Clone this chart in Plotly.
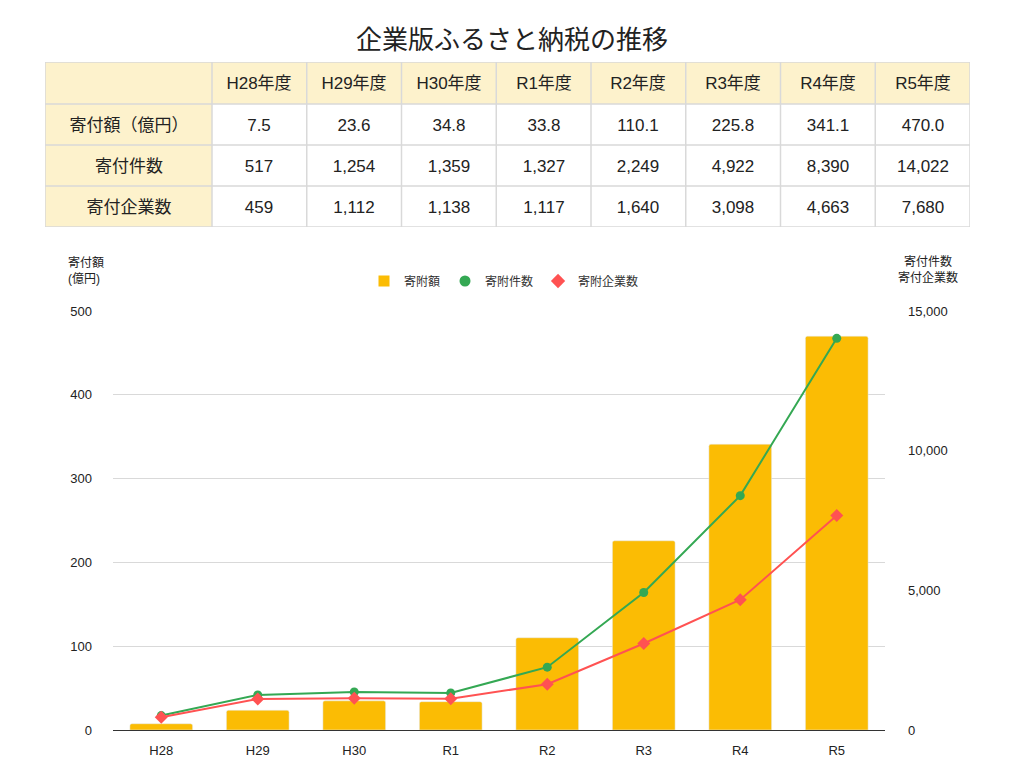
import plotly.graph_objects as go

# data
years = ["H28", "H29", "H30", "R1", "R2", "R3", "R4", "R5"]
year_labels = [y + "年度" for y in years]
amount = [7.5, 23.6, 34.8, 33.8, 110.1, 225.8, 341.1, 470.0]
count = [517, 1254, 1359, 1327, 2249, 4922, 8390, 14022]
companies = [459, 1112, 1138, 1117, 1640, 3098, 4663, 7680]
row_names = ["寄付額（億円）", "寄付件数", "寄付企業数"]

FONT = "Liberation Sans, Noto Sans CJK JP"
YELLOW = "#fbbc04"
GREEN = "#34a853"
RED = "#ff5252"
PALE = "#fdf2cc"
BORDER = "#d9d9d9"

W, H = 1024, 768
OFF = 8  # page body margin


def px(x):
    return (x - OFF) / W


def py(y):
    return 1 - (y - OFF) / H


fig = go.Figure()

# --- table on top, drawn as a heatmap so text is centred in each cell ---
first_w, col_w = 167, 94.75
x_edges = [0, first_w] + [first_w + col_w * (i + 1) for i in range(len(years))]
y_edges = [0, 42, 83, 124, 165]

text = [[""] + year_labels,
        [row_names[0]] + [f"{v:.1f}" for v in amount],
        [row_names[1]] + [f"{v:,}" for v in count],
        [row_names[2]] + [f"{v:,}" for v in companies]]
z = [[0] * (len(years) + 1)] + [[0] + [1] * len(years) for _ in range(3)]

fig.add_trace(go.Heatmap(
    x=x_edges, y=y_edges, z=z, text=text, texttemplate="%{text}",
    textfont=dict(family=FONT, size=17, color="#222"),
    colorscale=[[0, PALE], [1, "white"]], zmin=0, zmax=1,
    showscale=False, hoverinfo="skip", xaxis="x3", yaxis="y3",
))

# cell borders
for xe in x_edges:
    fig.add_shape(type="line", xref="x3", yref="y3", x0=xe, x1=xe,
                  y0=y_edges[0], y1=y_edges[-1],
                  line=dict(color=BORDER, width=1.5))
for ye in y_edges:
    fig.add_shape(type="line", xref="x3", yref="y3", y0=ye, y1=ye,
                  x0=x_edges[0], x1=x_edges[-1],
                  line=dict(color=BORDER, width=1.5))

# --- combo chart ---
fig.add_trace(go.Bar(x=years, y=amount, name="寄附額",
                     marker=dict(color=YELLOW, cornerradius=2),
                     showlegend=False))
fig.add_trace(go.Scatter(x=years, y=count, name="寄附件数", yaxis="y2",
                         mode="lines+markers",
                         line=dict(color=GREEN, width=2),
                         marker=dict(color=GREEN, size=9), showlegend=False))
fig.add_trace(go.Scatter(x=years, y=companies, name="寄附企業数", yaxis="y2",
                         mode="lines+markers",
                         line=dict(color=RED, width=2),
                         marker=dict(color=RED, size=10, symbol="diamond"),
                         showlegend=False))

# legend entries (symbols only, like the original)
for name, color, sym in [("寄附額", YELLOW, "square"),
                         ("寄附件数", GREEN, "circle"),
                         ("寄附企業数", RED, "diamond")]:
    fig.add_trace(go.Scatter(x=[None], y=[None], name=name, mode="markers",
                             marker=dict(color=color, symbol=sym, size=11)))

fig.update_layout(
    width=W, height=H,
    paper_bgcolor="white", plot_bgcolor="white",
    margin=dict(l=0, r=0, t=0, b=0, autoexpand=False),
    font=dict(family=FONT, size=12, color="#222"),
    title=dict(text="企業版ふるさと納税の推移", x=0.5 - OFF / W, xanchor="center",
               y=py(40), yanchor="middle",
               font=dict(family=FONT, size=26, color="#222")),
    bargap=0.35,
    legend=dict(orientation="h", x=px(504), xanchor="center",
                y=py(281), yanchor="middle",
                font=dict(size=12, color="#333"), itemwidth=30,
                bgcolor="rgba(0,0,0,0)"),
    xaxis=dict(domain=[px(113), px(885)], showgrid=False,
               showline=True, linecolor="#333", linewidth=1,
               ticks="", ticklabelstandoff=8,
               tickfont=dict(size=13, color="#222")),
    yaxis=dict(domain=[py(730), py(311)], range=[0, 500],
               tickvals=[0, 100, 200, 300, 400, 500],
               showgrid=True, gridcolor=BORDER, gridwidth=1,
               zeroline=False, ticks="", ticklabelstandoff=20,
               tickfont=dict(size=13, color="#222")),
    yaxis2=dict(overlaying="y", side="right", range=[0, 15000],
                tickvals=[0, 5000, 10000, 15000], tickformat=",",
                showgrid=False, zeroline=False, ticks="",
                ticklabelstandoff=22,
                tickfont=dict(size=13, color="#222")),
    xaxis3=dict(domain=[px(45), px(970)], anchor="y3",
                range=[x_edges[0], x_edges[-1]], visible=False,
                fixedrange=True),
    yaxis3=dict(domain=[py(227), py(62)], anchor="x3",
                range=[y_edges[-1], y_edges[0]], visible=False,
                fixedrange=True),
    annotations=[
        dict(text="寄付額<br>(億円)", x=px(66), y=py(254),
             xref="paper", yref="paper", xanchor="left", yanchor="top",
             align="left", showarrow=False, font=dict(size=12, color="#222")),
        dict(text="寄付件数<br>寄付企業数", x=px(928), y=py(252),
             xref="paper", yref="paper", xanchor="center", yanchor="top",
             align="center", showarrow=False, font=dict(size=12, color="#222")),
    ],
)

fig.write_html("out.html")
